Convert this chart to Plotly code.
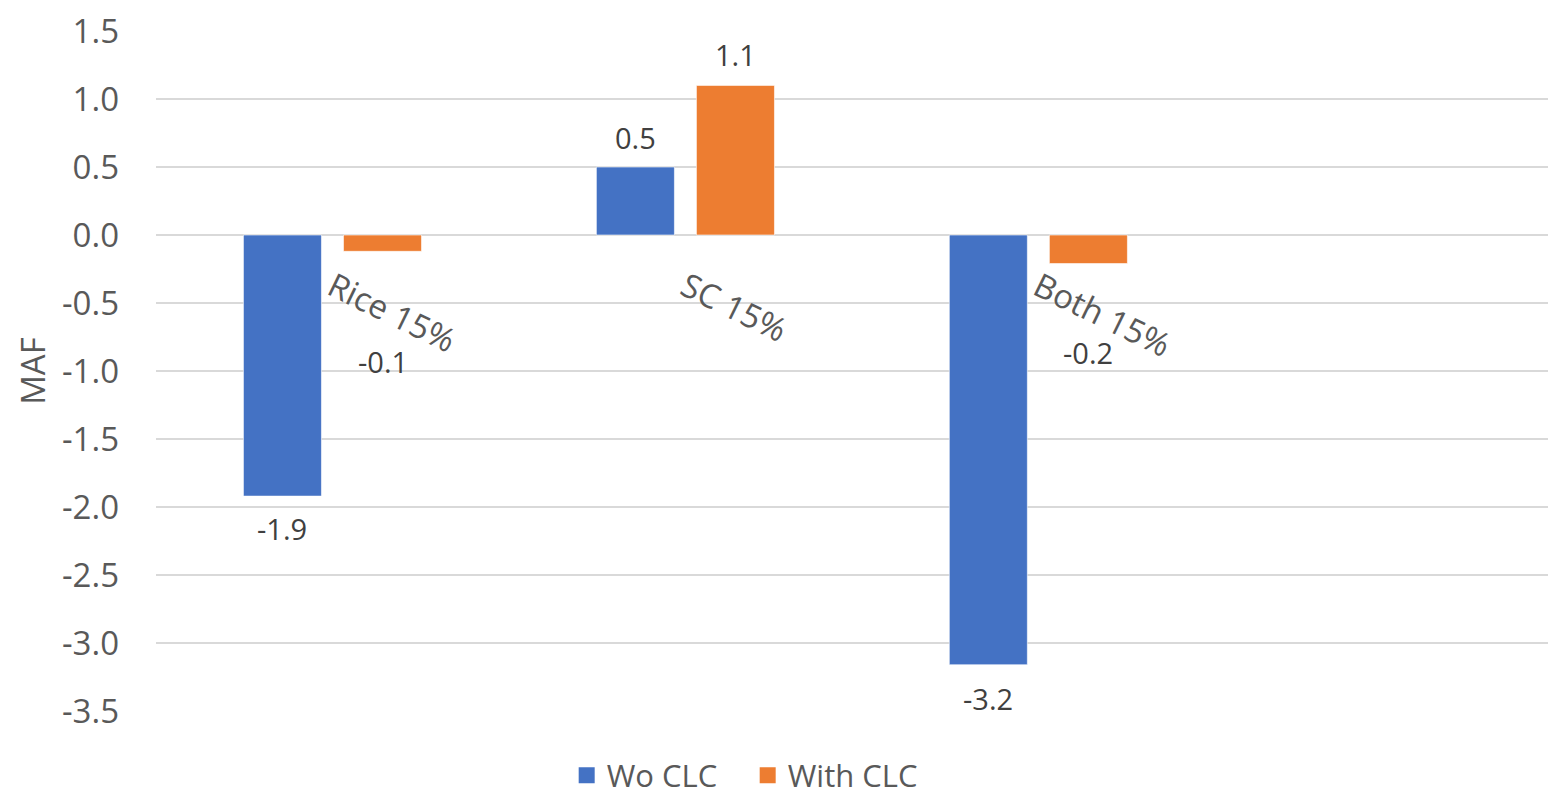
import plotly.graph_objects as go

categories = ["Rice 15%", "SC 15%", "Both 15%"]
wo_clc = [-1.92, 0.5, -3.16]
with_clc = [-0.12, 1.1, -0.21]
series_names = ["Wo CLC", "With CLC"]
colors = ["#4472C4", "#ED7D31"]
y_ticks = [1.5, 1.0, 0.5, 0.0, -0.5, -1.0, -1.5, -2.0, -2.5, -3.0, -3.5]

BARGAP = 0.433
GROUPGAP = 0.22
FONT = "Open Sans"
TICK_COLOR = "#595959"
LABEL_COLOR = "#404040"
# pixel offsets of the data labels from the bar ends (labels were hand-placed)
LABEL_SHIFTS = [[-32, 30, -34], [-110, 31, -89]]

x_idx = list(range(len(categories)))
fig = go.Figure()
for name, vals, col in zip(series_names, [wo_clc, with_clc], colors):
    fig.add_trace(go.Bar(x=x_idx, y=vals, name=name, marker_color=col,
                         marker_line=dict(color="rgba(255,255,255,0.6)", width=1),
                         showlegend=False))
    fig.add_trace(go.Scatter(x=[None], y=[None], mode="markers", name=name,
                             marker=dict(symbol="square", size=16, color=col)))

# data labels
slot = (1 - BARGAP) / 2
offsets = [-slot / 2, slot / 2]
for s, vals in enumerate([wo_clc, with_clc]):
    for i, v in enumerate(vals):
        fig.add_annotation(x=i + offsets[s], y=v, text=f"{v:.1f}", showarrow=False,
                           yshift=LABEL_SHIFTS[s][i], xanchor="center", yanchor="middle",
                           font=dict(family=FONT, size=29, color=LABEL_COLOR))

ymin, ymax = -3.5, 1.5
fig.update_layout(
    barmode="group", bargap=BARGAP, bargroupgap=GROUPGAP,
    width=1548, height=798,
    margin=dict(l=156, r=0, t=31, b=87),
    plot_bgcolor="white", paper_bgcolor="white",
    font=dict(family=FONT, color=TICK_COLOR),
    xaxis=dict(tickvals=x_idx, ticktext=categories, range=[-0.5, 3.444],
               tickangle=26, showgrid=False, zeroline=False, showline=False,
               anchor="free", position=(0 - ymin) / (ymax - ymin), automargin=False,
               ticklabelstandoff=26,
               tickfont=dict(size=33, color=TICK_COLOR), ticks=""),
    yaxis=dict(range=[ymin, ymax], tickvals=y_ticks,
               ticktext=[f"{t:.1f}" for t in y_ticks], automargin=False,
               showgrid=True, gridcolor="#D9D9D9", gridwidth=1.5,
               zeroline=True, zerolinecolor="#D9D9D9", zerolinewidth=1.5,
               showline=False, ticks="", ticklabelstandoff=36,
               tickfont=dict(size=33, color=TICK_COLOR),
               title=dict(text="MAF", font=dict(size=33, color=TICK_COLOR), standoff=6)),
    legend=dict(orientation="h", xref="container", yref="container",
                x=0.483, y=0.028, xanchor="center", yanchor="middle",
                font=dict(size=31, color=TICK_COLOR), itemwidth=30,
                entrywidth=136, entrywidthmode="pixels"),
)
fig.write_html("out.html", config={"displayModeBar": False},
               post_script="document.body.style.margin='0';document.body.style.overflow='hidden';")
